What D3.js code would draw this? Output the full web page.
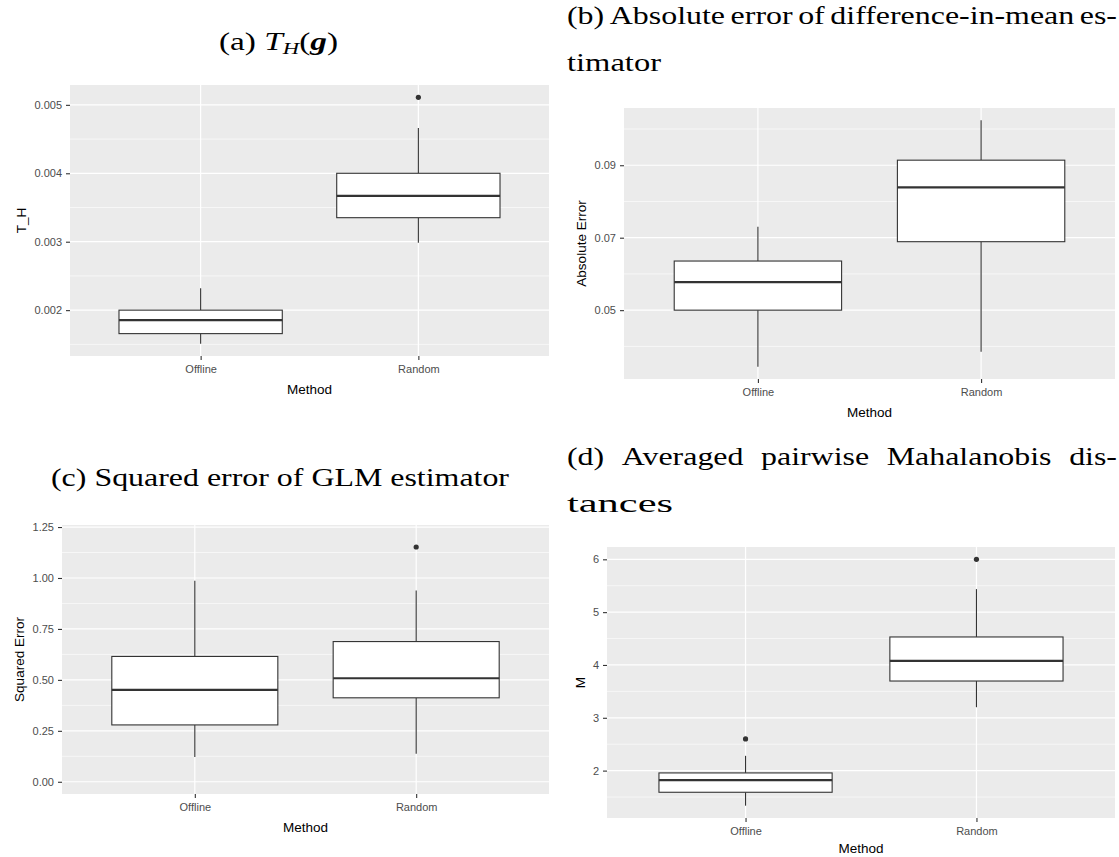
<!DOCTYPE html>
<html><head><meta charset="utf-8">
<script src="https://cdn.jsdelivr.net/npm/d3@7"></script>
<style>body{margin:0;background:#fff;} svg{display:block;}</style>
</head><body>
<svg id="chart" width="1119" height="857"></svg>
<script>
// ---------- data ----------
const methods = ["Offline", "Random"];
// five-number summaries: [lower whisker, Q1, median, Q3, upper whisker]
const thStats = [[0.00151, 0.001657, 0.001854, 0.00200, 0.00232],
                 [0.002985, 0.003351, 0.003669, 0.00400, 0.004663]];
const thOutliers = [[], [0.00511]];
const thTicks = [0.002, 0.003, 0.004, 0.005];
const thTickLabels = ["0.002", "0.003", "0.004", "0.005"];

const absStats = [[0.0344, 0.0500, 0.05775, 0.06356, 0.07304],
                  [0.0385, 0.0689, 0.0839, 0.0914, 0.1024]];
const absOutliers = [[], []];
const absTicks = [0.05, 0.07, 0.09];
const absTickLabels = ["0.05", "0.07", "0.09"];

const sqStats = [[0.121, 0.279, 0.451, 0.615, 0.987],
                 [0.137, 0.412, 0.508, 0.688, 0.938]];
const sqOutliers = [[], [1.152]];
const sqTicks = [0, 0.25, 0.5, 0.75, 1, 1.25];
const sqTickLabels = ["0.00", "0.25", "0.50", "0.75", "1.00", "1.25"];
const sqLimits = [0, 1.2];

const mStats = [[1.336, 1.59, 1.82, 1.956, 2.28],
                [3.20, 3.696, 4.076, 4.53, 5.436]];
const mOutliers = [[2.60], [6.0]];
const mTicks = [2, 3, 4, 5, 6];
const mTickLabels = ["2", "3", "4", "5", "6"];

const yTitles = ["T_H", "Absolute Error", "Squared Error", "M"];
const xTitle = "Method";

// ---------- panels ----------
const panels = [
  {stats: thStats, out: thOutliers, ticks: thTicks, labels: thTickLabels, ytitle: yTitles[0], box: [70, 549, 85, 356]},
  {stats: absStats, out: absOutliers, ticks: absTicks, labels: absTickLabels, ytitle: yTitles[1], box: [624, 1115, 108, 379]},
  {stats: sqStats, out: sqOutliers, ticks: sqTicks, labels: sqTickLabels, ytitle: yTitles[2], box: [62, 549, 525, 794], limits: sqLimits},
  {stats: mStats, out: mOutliers, ticks: mTicks, labels: mTickLabels, ytitle: yTitles[3], box: [607, 1115, 547, 818]}
];

const svg = d3.select("#chart");
const SANS = "'Liberation Sans', Arial, sans-serif";
const SERIF = "'Liberation Serif', 'Times New Roman', serif";

function drawPanel(p) {
  const [x0, x1, y0, y1] = p.box;
  let lo, hi;
  if (p.limits) { [lo, hi] = p.limits; }
  else {
    const all = p.stats.flat().concat(p.out.flat());
    lo = d3.min(all); hi = d3.max(all);
  }
  const pad = (hi - lo) * 0.05;
  const y = d3.scaleLinear().domain([lo - pad, hi + pad]).range([y1, y0]);
  const x = d3.scalePoint().domain(methods).range([x0, x1]).padding(0.6);
  const bw = x.step() * 0.75;
  const g = svg.append("g");

  g.append("rect").attr("x", x0).attr("y", y0).attr("width", x1 - x0).attr("height", y1 - y0).attr("fill", "#EBEBEB");

  // minor grid
  const step = p.ticks[1] - p.ticks[0];
  const minors = [];
  for (let i = -1; i < p.ticks.length; i++) {
    const v = p.ticks[0] + (i + 0.5) * step;
    const [dlo, dhi] = y.domain();
    if (v > dlo && v < dhi) minors.push(v);
  }
  g.selectAll(".minor").data(minors).join("line")
    .attr("x1", x0).attr("x2", x1).attr("y1", d => y(d)).attr("y2", d => y(d))
    .attr("stroke", "#fff").attr("stroke-width", 0.6);
  g.selectAll(".major").data(p.ticks).join("line")
    .attr("x1", x0).attr("x2", x1).attr("y1", d => y(d)).attr("y2", d => y(d))
    .attr("stroke", "#fff").attr("stroke-width", 1.2);
  g.selectAll(".vmajor").data(methods).join("line")
    .attr("x1", d => x(d)).attr("x2", d => x(d)).attr("y1", y0).attr("y2", y1)
    .attr("stroke", "#fff").attr("stroke-width", 1.2);

  // boxes
  methods.forEach((m, i) => {
    const s = p.stats[i];
    const cx = x(m);
    const c = "#333333";
    g.append("line").attr("x1", cx).attr("x2", cx).attr("y1", y(s[0])).attr("y2", y(s[1])).attr("stroke", c).attr("stroke-width", 1.1);
    g.append("line").attr("x1", cx).attr("x2", cx).attr("y1", y(s[3])).attr("y2", y(s[4])).attr("stroke", c).attr("stroke-width", 1.1);
    g.append("rect").attr("x", cx - bw / 2).attr("y", y(s[3])).attr("width", bw).attr("height", y(s[1]) - y(s[3]))
      .attr("fill", "#fff").attr("stroke", c).attr("stroke-width", 1.1);
    g.append("line").attr("x1", cx - bw / 2).attr("x2", cx + bw / 2).attr("y1", y(s[2])).attr("y2", y(s[2]))
      .attr("stroke", c).attr("stroke-width", 2.2);
    p.out[i].forEach(v => {
      g.append("circle").attr("cx", cx).attr("cy", y(v)).attr("r", 2.6).attr("fill", c);
    });
  });

  // axes
  const ya = g.append("g").attr("transform", `translate(${x0},0)`)
    .call(d3.axisLeft(y).tickValues(p.ticks).tickFormat((d, i) => p.labels[i]).tickSize(4).tickPadding(4));
  const xa = g.append("g").attr("transform", `translate(0,${y1})`)
    .call(d3.axisBottom(x).tickSize(4).tickPadding(5));
  [ya, xa].forEach(a => {
    a.select(".domain").remove();
    a.selectAll(".tick line").attr("stroke", "#333333").attr("stroke-width", 1.1);
    a.selectAll(".tick text").attr("fill", "#4D4D4D").style("font-family", SANS).style("font-size", "11px");
  });
  let maxW = 0;
  ya.selectAll(".tick text").each(function () { maxW = Math.max(maxW, this.getComputedTextLength()); });

  g.append("text").attr("x", (x0 + x1) / 2).attr("y", Math.min(y1 + 33, 857 - 9)).attr("dy", "0.35em")
    .attr("text-anchor", "middle").style("font-family", SANS).style("font-size", "13.5px").attr("fill", "#000")
    .text(xTitle);
  const tx = x0 - 8 - maxW - 13;
  g.append("text").attr("transform", `translate(${tx},${(y0 + y1) / 2}) rotate(-90)`).attr("dy", "0.35em")
    .attr("text-anchor", "middle").style("font-family", SANS).style("font-size", "13.5px").attr("fill", "#000")
    .text(p.ytitle);
}
panels.forEach(drawPanel);

// ---------- captions ----------
const TS = 25;
function fitLine(str, xa, xb, base) {
  return svg.append("text").attr("x", xa).attr("y", base)
    .style("font-family", SERIF).style("font-size", TS + "px").attr("fill", "#000")
    .attr("textLength", xb - xa).attr("lengthAdjust", "spacingAndGlyphs").text(str);
}
function justifyLine(str, xa, xb, base, f) {
  const words = str.split(" ");
  const els = words.map(w => svg.append("text").attr("y", base)
    .style("font-family", SERIF).style("font-size", TS + "px").attr("fill", "#000").text(w));
  const ws = els.map(e => e.node().getComputedTextLength() * f);
  const gap = ((xb - xa) - d3.sum(ws)) / (words.length - 1);
  let cx = xa;
  els.forEach((e, i) => {
    e.attr("x", cx).attr("textLength", ws[i]).attr("lengthAdjust", "spacingAndGlyphs");
    cx += ws[i] + gap;
  });
}
// (c) single line, used to find glyph stretch
const cEl = svg.append("text").style("font-family", SERIF).style("font-size", TS + "px")
  .text("(c) Squared error of GLM estimator");
const cNat = cEl.node().getComputedTextLength();
cEl.remove();
const stretch = (509 - 51) / cNat;
fitLine("(c) Squared error of GLM estimator", 51, 509, 486);

justifyLine("(b) Absolute error of difference-in-mean es-", 567, 1117, 24, stretch);
fitLine("timator", 567, 661, 71);
justifyLine("(d) Averaged pairwise Mahalanobis dis-", 567, 1117, 465, stretch);
fitLine("tances", 567, 673, 512);

// (a) with math
const aT = svg.append("text").attr("x", 219).attr("y", 50)
  .style("font-family", SERIF).style("font-size", TS + "px").attr("fill", "#000")
  .attr("textLength", 338 - 219).attr("lengthAdjust", "spacingAndGlyphs");
aT.append("tspan").text("(a) ");
aT.append("tspan").style("font-style", "italic").text("T");
aT.append("tspan").style("font-style", "italic").style("font-size", "17px").attr("dy", 4).text("H");
aT.append("tspan").attr("dy", -4).text("(");
aT.append("tspan").style("font-style", "italic").style("font-weight", "bold").text("g");
aT.append("tspan").text(")");
</script>
</body></html>
